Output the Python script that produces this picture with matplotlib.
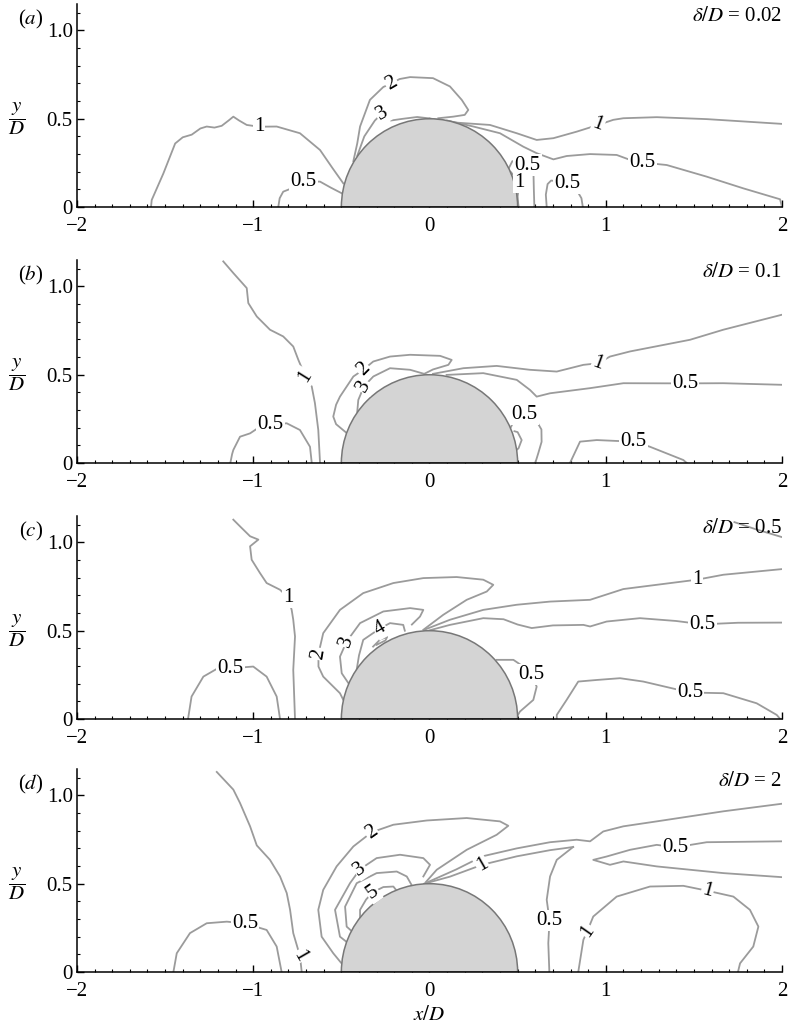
import matplotlib
matplotlib.use("Agg")
import matplotlib.pyplot as plt
from matplotlib.patches import Wedge
from matplotlib.ticker import MultipleLocator, FixedLocator, FixedFormatter

plt.rcParams['font.family'] = 'serif'
plt.rcParams['font.serif'] = ['Liberation Serif', 'DejaVu Serif']
plt.rcParams['mathtext.fontset'] = 'stix'

# ---- contour polylines (x/D, y/D) ----
# (a) delta/D = 0.02
a_k1_west = [(-1.58, 0.0), (-1.576, 0.04), (-1.51, 0.19), (-1.443, 0.36), (-1.40, 0.395), (-1.349, 0.41),
             (-1.30, 0.445), (-1.264, 0.456), (-1.22, 0.45), (-1.179, 0.46), (-1.14, 0.49), (-1.113, 0.512),
             (-1.08, 0.49), (-1.037, 0.465), (-0.967, 0.455), (-0.867, 0.456), (-0.735, 0.418),
             (-0.621, 0.323), (-0.55, 0.22), (-0.489, 0.134)]
a_k05_west = [(-0.858, 0.0), (-0.85, 0.05), (-0.83, 0.087), (-0.782, 0.106), (-0.715, 0.145),
              (-0.621, 0.144), (-0.56, 0.11), (-0.498, 0.078)]
a_k2 = [(-0.432, 0.26), (-0.41, 0.36), (-0.394, 0.456), (-0.338, 0.607), (-0.262, 0.68), (-0.215, 0.70),
        (-0.17, 0.725), (-0.11, 0.736), (0.02, 0.73), (0.116, 0.683), (0.183, 0.607), (0.22, 0.55),
        (0.2, 0.522), (0.135, 0.512), (0.05, 0.503)]
a_k3 = [(-0.41, 0.29), (-0.37, 0.40), (-0.31, 0.49), (-0.27, 0.53), (-0.22, 0.49), (-0.15, 0.50),
        (-0.07, 0.51), (0.0, 0.502)]
a_k1_east = [(0.0, 0.502), (0.154, 0.478), (0.343, 0.465), (0.495, 0.418), (0.608, 0.38), (0.703, 0.39),
             (0.835, 0.427), (0.956, 0.465), (1.043, 0.494), (1.1, 0.503), (1.289, 0.509), (1.573, 0.498),
             (2.0, 0.471)]
a_k05_east = [(0.1, 0.49), (0.249, 0.456), (0.4, 0.418), (0.532, 0.342), (0.608, 0.305), (0.703, 0.27),
              (0.778, 0.289), (0.911, 0.30), (1.062, 0.295), (1.13, 0.27), (1.209, 0.252), (1.346, 0.238),
              (1.573, 0.172), (1.78, 0.106), (1.989, 0.044), (2.0, 0.0)]
a_k05_wake = [(0.45, 0.22), (0.47, 0.26), (0.556, 0.238), (0.59, 0.19), (0.592, 0.10), (0.595, 0.0)]
a_k1_wake = [(0.46, 0.20), (0.51, 0.139), (0.50, 0.06), (0.505, 0.0)]
a_k05_far = [(0.665, 0.0), (0.66, 0.07), (0.67, 0.13), (0.69, 0.15), (0.74, 0.145), (0.783, 0.133),
             (0.835, 0.096), (0.862, 0.05), (0.87, 0.0)]

# (b) delta/D = 0.1
b_k1_west = [(-1.17, 1.142), (-1.113, 1.076), (-1.037, 0.991), (-1.028, 0.906), (-0.98, 0.83),
             (-0.905, 0.755), (-0.83, 0.717), (-0.773, 0.66), (-0.744, 0.584), (-0.706, 0.494),
             (-0.668, 0.433), (-0.65, 0.339), (-0.631, 0.187), (-0.621, 0.0)]
b_k05_west = [(-1.13, 0.0), (-1.12, 0.05), (-1.113, 0.074), (-1.075, 0.149), (-1.018, 0.168),
              (-0.97, 0.20), (-0.902, 0.218), (-0.81, 0.225), (-0.735, 0.187), (-0.678, 0.092), (-0.668, 0.0)]
b_k2 = [(-0.47, 0.17), (-0.53, 0.22), (-0.546, 0.263), (-0.53, 0.33), (-0.508, 0.376), (-0.432, 0.49),
        (-0.374, 0.53), (-0.319, 0.575), (-0.224, 0.603), (-0.11, 0.613), (0.06, 0.607), (0.126, 0.584),
        (0.107, 0.556), (0.02, 0.53), (-0.03, 0.505)]
b_k3 = [(-0.41, 0.29), (-0.404, 0.357), (-0.372, 0.434), (-0.319, 0.49), (-0.224, 0.537), (-0.11, 0.528),
        (-0.03, 0.505)]
b_k1_east = [(0.02, 0.505), (0.192, 0.537), (0.381, 0.55), (0.57, 0.528), (0.722, 0.518), (0.873, 0.556),
             (0.956, 0.565), (1.024, 0.603), (1.138, 0.632), (1.478, 0.698), (1.667, 0.755), (2.0, 0.84)]
b_k05_east = [(0.097, 0.499), (0.305, 0.509), (0.495, 0.471), (0.57, 0.414), (0.608, 0.376), (0.684, 0.395),
              (0.911, 0.424), (1.1, 0.452), (1.45, 0.451), (1.667, 0.452), (2.0, 0.443)]
b_k05_wake = [(0.46, 0.20), (0.485, 0.25), (0.539, 0.275), (0.60, 0.25), (0.635, 0.19), (0.636, 0.12),
              (0.617, 0.055), (0.60, 0.0)]
b_k1_wake = [(0.482, 0.18), (0.50, 0.175), (0.523, 0.13), (0.505, 0.083), (0.488, 0.07)]
b_k05_far = [(0.797, 0.0), (0.83, 0.07), (0.854, 0.121), (0.949, 0.13), (1.06, 0.125), (1.157, 0.122),
             (1.251, 0.092), (1.44, 0.017), (1.46, 0.0)]

# (c) delta/D = 0.5
c_k1_west = [(-1.113, 1.129), (-1.075, 1.091), (-1.018, 1.035), (-0.971, 1.016), (-1.018, 0.978),
             (-1.009, 0.902), (-0.962, 0.827), (-0.924, 0.77), (-0.848, 0.732), (-0.803, 0.689),
             (-0.782, 0.618), (-0.773, 0.562), (-0.763, 0.467), (-0.773, 0.278), (-0.763, 0.0)]
c_k05_west = [(-1.37, 0.0), (-1.35, 0.127), (-1.283, 0.24), (-1.21, 0.282), (-1.129, 0.287),
              (-1.0, 0.297), (-0.924, 0.24), (-0.867, 0.127), (-0.848, 0.0)]
c_k2 = [(-0.49, 0.11), (-0.508, 0.146), (-0.603, 0.24), (-0.63, 0.297), (-0.63, 0.369), (-0.603, 0.486),
        (-0.508, 0.618), (-0.376, 0.713), (-0.205, 0.77), (-0.035, 0.798), (0.154, 0.804), (0.305, 0.789),
        (0.362, 0.76), (0.325, 0.722), (0.211, 0.675), (0.078, 0.59), (-0.035, 0.505)]
c_k3 = [(-0.458, 0.20), (-0.498, 0.259), (-0.508, 0.353), (-0.47, 0.439), (-0.394, 0.543),
        (-0.262, 0.609), (-0.11, 0.628), (-0.035, 0.618), (-0.054, 0.58), (-0.10, 0.535)]
c_k4 = [(-0.413, 0.28), (-0.40, 0.36), (-0.376, 0.448), (-0.281, 0.513), (-0.224, 0.543),
        (-0.149, 0.533), (-0.14, 0.50)]
c_k4_core = [(-0.32, 0.41), (-0.28, 0.45), (-0.24, 0.465), (-0.25, 0.445), (-0.30, 0.42)]
c_k1_east = [(-0.03, 0.505), (0.116, 0.562), (0.305, 0.618), (0.495, 0.647), (0.684, 0.665),
             (0.911, 0.675), (1.1, 0.736), (1.289, 0.76), (1.518, 0.789), (1.667, 0.817), (2.0, 0.849)]
c_k1_corner = [(1.73, 1.115), (1.85, 1.075), (2.0, 1.03)]
c_k05_east = [(0.0, 0.502), (0.116, 0.533), (0.305, 0.571), (0.42, 0.565), (0.50, 0.535), (0.58, 0.515),
              (0.70, 0.53), (0.873, 0.533), (0.911, 0.524), (1.005, 0.552), (1.194, 0.571), (1.40, 0.555),
              (1.549, 0.536), (1.75, 0.545), (2.0, 0.546)]
c_k05_wake = [(0.381, 0.335), (0.476, 0.335), (0.532, 0.297), (0.579, 0.253), (0.608, 0.183),
              (0.589, 0.108), (0.513, 0.042), (0.50, 0.02)]
c_k05_far = [(0.722, 0.0), (0.722, 0.023), (0.778, 0.108), (0.844, 0.212), (0.949, 0.221), (1.081, 0.231),
             (1.213, 0.212), (1.478, 0.15), (1.667, 0.146), (1.856, 0.089), (1.97, 0.023), (1.99, 0.0)]

# (d) delta/D = 2
d_k1_west = [(-1.207, 1.133), (-1.113, 1.033), (-1.075, 0.957), (-1.018, 0.825), (-0.98, 0.717),
             (-0.905, 0.635), (-0.848, 0.541), (-0.81, 0.447), (-0.791, 0.352), (-0.773, 0.22),
             (-0.735, 0.091), (-0.725, 0.0)]
d_k05_west = [(-1.453, 0.0), (-1.434, 0.106), (-1.359, 0.22), (-1.264, 0.276), (-1.15, 0.285),
              (-1.047, 0.275), (-0.924, 0.238), (-0.867, 0.144), (-0.839, 0.0)]
d_k2 = [(-0.50, 0.05), (-0.546, 0.106), (-0.612, 0.2), (-0.631, 0.352), (-0.603, 0.465), (-0.527, 0.598),
        (-0.432, 0.711), (-0.329, 0.791), (-0.205, 0.834), (-0.016, 0.858), (0.211, 0.872), (0.4, 0.853),
        (0.447, 0.828), (0.381, 0.777), (0.211, 0.692), (0.041, 0.579), (-0.02, 0.51)]
d_k3 = [(-0.47, 0.17), (-0.508, 0.20), (-0.536, 0.352), (-0.451, 0.503), (-0.394, 0.582), (-0.30, 0.645),
        (-0.167, 0.664), (-0.035, 0.645), (0.003, 0.607), (-0.035, 0.541)]
d_k4 = [(-0.44, 0.23), (-0.47, 0.257), (-0.479, 0.37), (-0.413, 0.503), (-0.3, 0.56), (-0.186, 0.569),
        (-0.129, 0.541), (-0.10, 0.49)]
d_k5 = [(-0.394, 0.31), (-0.394, 0.352), (-0.36, 0.41), (-0.323, 0.451), (-0.262, 0.481), (-0.205, 0.484),
        (-0.19, 0.465)]
d_k1_east_upper = [(-0.03, 0.50), (0.15, 0.58), (0.30, 0.655), (0.495, 0.70), (0.684, 0.735),
                   (0.835, 0.749), (0.911, 0.74), (0.986, 0.796), (1.1, 0.825), (1.289, 0.853),
                   (1.667, 0.91), (2.0, 0.953)]
d_k1_east_lower = [(-0.03, 0.50), (0.116, 0.54), (0.298, 0.607), (0.495, 0.655), (0.684, 0.69),
                   (0.759, 0.70), (0.815, 0.708)]
d_k05_mid = [(0.815, 0.708), (0.722, 0.635), (0.684, 0.541), (0.665, 0.409), (0.681, 0.292),
             (0.674, 0.163), (0.68, 0.0)]
d_k05_east = [(2.0, 0.74), (1.573, 0.735), (1.396, 0.706), (1.289, 0.72), (1.138, 0.692), (1.005, 0.654),
              (0.929, 0.635), (1.024, 0.607), (1.1, 0.626), (1.289, 0.598), (1.667, 0.56), (2.0, 0.537)]
d_k1_loop = [(0.844, 0.0), (0.873, 0.182), (0.896, 0.233), (0.929, 0.314), (1.062, 0.427), (1.251, 0.484),
             (1.44, 0.488), (1.577, 0.46), (1.724, 0.427), (1.818, 0.352), (1.866, 0.257), (1.837, 0.144),
             (1.762, 0.049), (1.75, 0.0)]

# inline contour labels: (text, x, y, rotation)
a_labels = [("1", -0.967, 0.455, 0), ("0.5", -0.715, 0.145, 0), ("2", -0.215, 0.70, 30),
            ("3", -0.27, 0.53, 30), ("1", 0.956, 0.465, -20), ("0.5", 1.209, 0.252, 0),
            ("0.5", 0.556, 0.238, 0), ("1", 0.51, 0.139, 0), ("0.5", 0.783, 0.133, 0)]
b_labels = [("1", -0.706, 0.494, 58), ("0.5", -0.902, 0.218, 0), ("2", -0.374, 0.53, 45),
            ("3", -0.372, 0.434, 60), ("1", 0.956, 0.565, -20), ("0.5", 1.45, 0.451, 0),
            ("0.5", 0.539, 0.275, 0), ("0.5", 1.157, 0.122, 0)]
c_labels = [("1", -0.803, 0.689, 0), ("0.5", -1.129, 0.287, 0), ("2", -0.63, 0.369, 80),
            ("3", -0.47, 0.439, 70), ("4", -0.281, 0.513, 30), ("1", 1.518, 0.789, 0),
            ("0.5", 1.549, 0.536, 0), ("0.5", 0.579, 0.253, 0), ("0.5", 1.478, 0.15, 0)]
d_labels = [("1", -0.735, 0.091, -60), ("0.5", -1.047, 0.275, 0), ("2", -0.329, 0.791, 35),
            ("3", -0.394, 0.582, 35), ("5", -0.323, 0.451, 35), ("1", 0.298, 0.607, 30),
            ("0.5", 0.681, 0.292, 0), ("0.5", 1.396, 0.706, 0), ("1", 0.896, 0.233, 55),
            ("1", 1.577, 0.46, -15)]

panel_tags = ["(a)", "(b)", "(c)", "(d)"]
delta_values = ["0.02", "0.1", "0.5", "2"]

panels = [
    ([a_k1_west, a_k05_west, a_k2, a_k3, a_k1_east, a_k05_east, a_k05_wake, a_k1_wake, a_k05_far], a_labels),
    ([b_k1_west, b_k05_west, b_k2, b_k3, b_k1_east, b_k05_east, b_k05_wake, b_k1_wake, b_k05_far], b_labels),
    ([c_k1_west, c_k05_west, c_k2, c_k3, c_k4, c_k4_core, c_k1_east, c_k1_corner, c_k05_east,
      c_k05_wake, c_k05_far], c_labels),
    ([d_k1_west, d_k05_west, d_k2, d_k3, d_k4, d_k5, d_k1_east_upper, d_k1_east_lower, d_k05_mid,
      d_k05_east, d_k1_loop], d_labels),
]

LINE_GREY = '#9b9b9b'
FS = 15

fig = plt.figure(figsize=(7.88, 10.28), dpi=100)
bottoms = [0.7986, 0.5496, 0.3006, 0.0545]

for i, (lines, labels) in enumerate(panels):
    ax = fig.add_axes([0.0977, bottoms[i], 0.8947, 0.1975])
    for pts in lines:
        xs = [p[0] for p in pts]
        ys = [p[1] for p in pts]
        ax.plot(xs, ys, color=LINE_GREY, lw=1.3, zorder=2, solid_joinstyle='round')

    # the cylinder section
    ax.add_patch(Wedge((0, 0), 0.5, 0, 180, facecolor='#d4d4d4', edgecolor='#777777', lw=1.1, zorder=3))

    for txt, x, y, rot in labels:
        ax.text(x, y, txt, fontsize=FS, ha='center', va='center', rotation=rot, zorder=5,
                bbox=dict(boxstyle='square,pad=0.05', fc='white', ec='none'))

    ax.set_xlim(-2, 2)
    ax.set_ylim(0, 1.15)
    for s in ['top', 'right']:
        ax.spines[s].set_visible(False)
    for s in ['left', 'bottom']:
        ax.spines[s].set_linewidth(1.1)
        ax.spines[s].set_zorder(6)

    ax.xaxis.set_major_locator(MultipleLocator(1))
    ax.xaxis.set_minor_locator(MultipleLocator(0.1))
    ax.yaxis.set_major_locator(FixedLocator([0, 0.5, 1.0]))
    ax.yaxis.set_major_formatter(FixedFormatter(['0', '0.5', '1.0']))
    ax.yaxis.set_minor_locator(MultipleLocator(0.1))
    ax.tick_params(which='major', direction='in', length=5, width=1, labelsize=FS)
    ax.tick_params(which='minor', direction='in', length=2.5, width=0.8)
    ax.tick_params(axis='x', which='major', pad=7)
    ax.tick_params(axis='y', which='major', pad=3)

    ax.set_ylabel(r'$\dfrac{y}{D}$', fontsize=FS, rotation=0, va='center', ha='center')
    ax.yaxis.set_label_coords(-0.085, 0.435)

    ax.text(-0.065, 0.925, panel_tags[i][0] + r'$\mathit{' + panel_tags[i][1] + '}$' + panel_tags[i][2],
            transform=ax.transAxes, fontsize=FS, ha='center', va='center')
    ax.text(1.0, 0.94, r'$\delta/D$ = ' + delta_values[i], transform=ax.transAxes,
            fontsize=FS, ha='right', va='center')

fig.text(0.545, 0.0126, r'$x/D$', fontsize=FS, ha='center', va='center')

fig.savefig('out.png', dpi=100)
